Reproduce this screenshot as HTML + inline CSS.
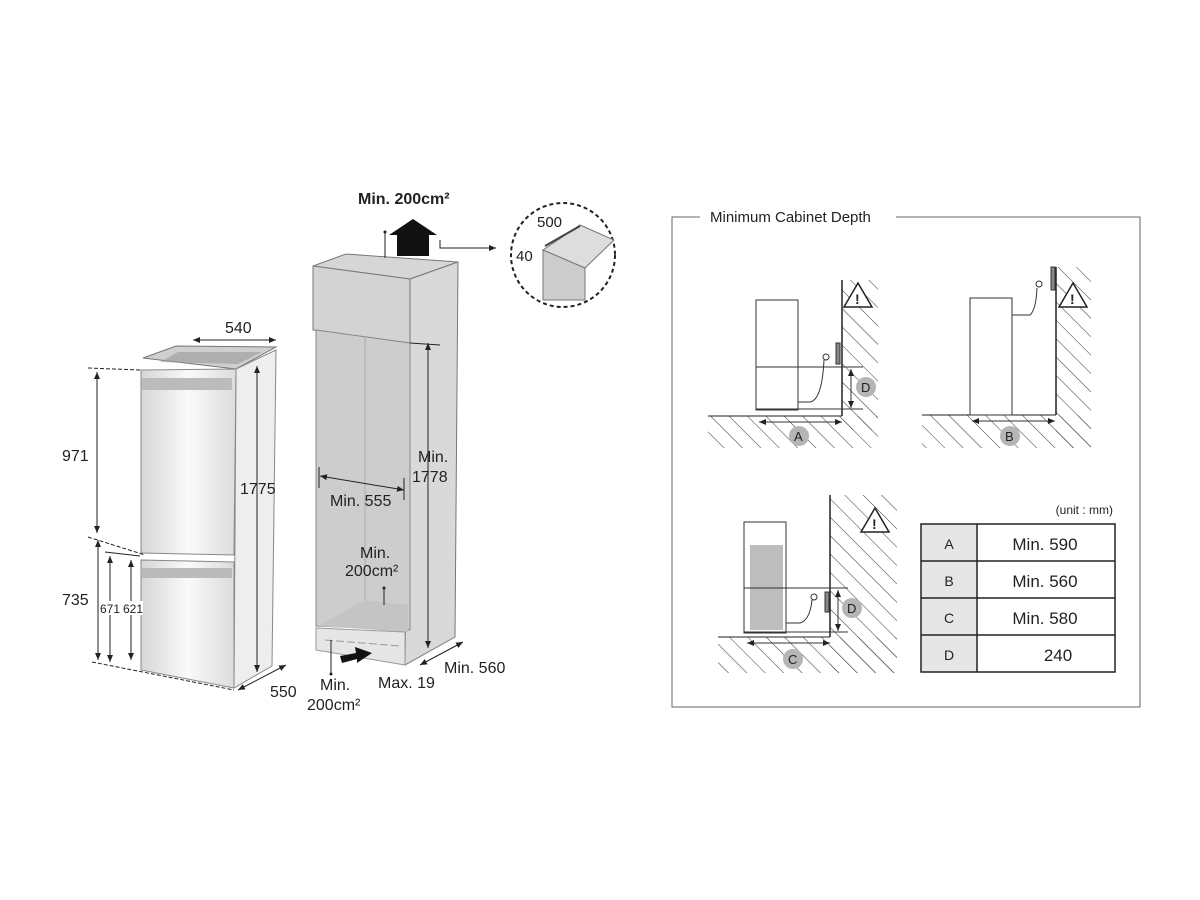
<!DOCTYPE html>
<html><head><meta charset="utf-8"><style>
html,body{margin:0;padding:0;background:#fff;}
svg{display:block;}
text{font-family:"Liberation Sans",sans-serif;fill:#222;}
</style></head><body>
<svg width="1200" height="900" viewBox="0 0 1200 900" xmlns="http://www.w3.org/2000/svg">
<defs>
<pattern id="h" width="13" height="13" patternUnits="userSpaceOnUse" patternTransform="rotate(-45)">
<line x1="0" y1="0" x2="0" y2="13" stroke="#444" stroke-width="1.1"/>
</pattern>
<linearGradient id="door" x1="0" x2="1">
<stop offset="0" stop-color="#d6d6d6"/><stop offset="0.5" stop-color="#fafafa"/><stop offset="1" stop-color="#dcdcdc"/>
</linearGradient>
<marker id="a" markerWidth="8" markerHeight="8" refX="7" refY="4" orient="auto-start-reverse"><path d="M0,1 L7,4 L0,7 z" fill="#222"/></marker>
</defs>

<!-- ===== Left fridge ===== -->
<polygon points="143,358 176,346 276,347 236,369" fill="#cfcfcf" stroke="#777"/>
<polygon points="178,352 262,352 238,364 160,362" fill="#999" opacity="0.6"/>
<polygon points="236,369 276,350 272,666 234,688" fill="#eeeeee" stroke="#888"/>
<polygon points="141,370 236,369 234,555 141,553" fill="url(#door)" stroke="#888"/>
<polygon points="141,560 234,562 234,688 141,670" fill="url(#door)" stroke="#888"/>
<rect x="142" y="378" width="90" height="12" fill="#bbb"/>
<rect x="142" y="568" width="90" height="10" fill="#bbb"/>
<!-- dims -->
<line x1="193" y1="340" x2="276" y2="340" stroke="#222" marker-start="url(#a)" marker-end="url(#a)"/>
<text x="225" y="333" font-size="16">540</text>
<line x1="88" y1="368" x2="140" y2="370" stroke="#222" stroke-dasharray="4,2"/>
<line x1="97" y1="372" x2="97" y2="533" stroke="#222" marker-start="url(#a)" marker-end="url(#a)"/>
<text x="62" y="461" font-size="16">971</text>
<line x1="88" y1="537" x2="145" y2="555" stroke="#222" stroke-dasharray="4,2"/>
<line x1="98" y1="540" x2="98" y2="660" stroke="#222" marker-start="url(#a)" marker-end="url(#a)"/>
<text x="62" y="605" font-size="16">735</text>
<line x1="105" y1="552" x2="140" y2="556" stroke="#222"/>
<line x1="110" y1="556" x2="110" y2="662" stroke="#222" marker-start="url(#a)" marker-end="url(#a)"/>
<line x1="131" y1="560" x2="131" y2="660" stroke="#222" marker-start="url(#a)" marker-end="url(#a)"/>
<rect x="99" y="601" width="44" height="14" fill="#fff"/>
<text x="100" y="613" font-size="12">671</text><text x="123" y="613" font-size="12">621</text>
<line x1="92" y1="662" x2="234" y2="690" stroke="#222" stroke-dasharray="4,2"/>
<line x1="257" y1="366" x2="257" y2="672" stroke="#222" marker-start="url(#a)" marker-end="url(#a)"/>
<text x="240" y="494" font-size="16">1775</text>
<line x1="238" y1="690" x2="286" y2="665" stroke="#222" marker-start="url(#a)" marker-end="url(#a)"/>
<text x="270" y="697" font-size="16">550</text>

<!-- ===== Cabinet ===== -->
<polygon points="313,266 346,254 458,262 410,279" fill="#d6d6d6" stroke="#777"/>
<polygon points="410,279 458,262 455,637 405,665" fill="#d9d9d9" stroke="#777"/>
<polygon points="313,266 410,279 410,343 313,330" fill="#d3d3d3" stroke="#777"/>
<polygon points="316,330 410,343 410,630 316,626" fill="#cdcdcd" stroke="#888"/>
<line x1="365" y1="336" x2="365" y2="600" stroke="#aaa"/>
<polygon points="318,626 365,600 408,605 408,632" fill="#c4c4c4"/>
<polygon points="316,628 405,632 405,665 316,650" fill="#e6e6e6" stroke="#999"/>
<line x1="325" y1="640" x2="400" y2="646" stroke="#999" stroke-dasharray="8,3"/>
<line x1="428" y1="343" x2="428" y2="648" stroke="#222" marker-start="url(#a)" marker-end="url(#a)"/>
<line x1="410" y1="343" x2="440" y2="345" stroke="#222"/>
<text x="418" y="462" font-size="16">Min.</text>
<text x="412" y="482" font-size="16">1778</text>
<line x1="320" y1="476" x2="404" y2="490" stroke="#222" marker-start="url(#a)" marker-end="url(#a)"/>
<line x1="319" y1="467" x2="319" y2="488" stroke="#222"/><line x1="404" y1="478" x2="404" y2="500" stroke="#222"/>
<text x="330" y="506" font-size="16">Min. 555</text>
<text x="360" y="558" font-size="16">Min.</text>
<text x="345" y="576" font-size="16">200cm²</text>
<line x1="384" y1="588" x2="384" y2="605" stroke="#222"/><circle cx="384" cy="588" r="1.5" fill="#222"/>
<!-- top vent -->
<text x="358" y="204" font-size="16" font-weight="bold">Min. 200cm²</text>
<line x1="385" y1="232" x2="385" y2="258" stroke="#222"/><circle cx="385" cy="232" r="1.5" fill="#222"/>
<polygon points="397,256 397,235 389,235 413,219 437,235 429,235 429,256" fill="#111"/>
<!-- bottom arrow -->
<polygon points="340,656 356,653 355,647 372,653 357,663 357,659 342,663" fill="#111"/>
<line x1="331" y1="640" x2="331" y2="674" stroke="#222"/><circle cx="331" cy="674" r="1.5" fill="#222"/>
<text x="320" y="690" font-size="16">Min.</text>
<text x="307" y="710" font-size="16">200cm²</text>
<text x="378" y="688" font-size="16">Max. 19</text>
<line x1="420" y1="665" x2="463" y2="642" stroke="#222" marker-start="url(#a)" marker-end="url(#a)"/>
<text x="444" y="673" font-size="16">Min. 560</text>
<!-- detail -->
<polyline points="440,240 440,248 496,248" fill="none" stroke="#222" marker-end="url(#a)"/>
<circle cx="563" cy="255" r="52" fill="none" stroke="#222" stroke-width="2" stroke-dasharray="4,3"/>
<polygon points="543,250 580,225 614,240 585,268" fill="#ddd" stroke="#777"/>
<polygon points="543,250 585,268 585,300 543,300" fill="#ccc" stroke="#777"/>
<line x1="545" y1="246" x2="580" y2="226" stroke="#444" stroke-width="2"/>
<text x="537" y="227" font-size="15">500</text>
<text x="516" y="261" font-size="15">40</text>

<!-- ===== Right panel ===== -->
<polyline points="700,217 672,217 672,707 1140,707 1140,217 896,217" fill="none" stroke="#666"/>
<text x="710" y="222" font-size="15">Minimum Cabinet Depth</text>

<!-- A -->
<rect x="842" y="280" width="36" height="150" fill="url(#h)"/>
<rect x="708" y="416" width="170" height="32" fill="url(#h)"/>
<line x1="708" y1="416" x2="842" y2="416" stroke="#222"/>
<line x1="842" y1="280" x2="842" y2="416" stroke="#222" stroke-width="1.5"/>
<rect x="756" y="300" width="42" height="110" fill="#fff" stroke="#333"/>
<line x1="756" y1="367" x2="863" y2="367" stroke="#333"/>
<line x1="756" y1="409" x2="863" y2="409" stroke="#333"/>
<path d="M798,402 L810,402 Q822,400 824,360" fill="none" stroke="#333"/>
<circle cx="826" cy="357" r="3" fill="none" stroke="#333"/>
<rect x="836" y="343" width="4" height="21" fill="#888" stroke="#333"/>
<line x1="851" y1="369" x2="851" y2="408" stroke="#333" marker-start="url(#a)" marker-end="url(#a)"/>
<line x1="759" y1="422" x2="842" y2="422" stroke="#333" marker-start="url(#a)" marker-end="url(#a)"/>
<circle cx="866" cy="387" r="10" fill="#b5b5b5"/><text x="861" y="392" font-size="13">D</text>
<circle cx="799" cy="436" r="10" fill="#b5b5b5"/><text x="794" y="441" font-size="13">A</text>
<polygon points="858,283 872,307 844,307" fill="#fff" stroke="#222" stroke-width="1.5"/><text x="855" y="304" font-size="14" font-weight="bold">!</text>

<!-- B -->
<rect x="1056" y="267" width="35" height="181" fill="url(#h)"/>
<rect x="922" y="415" width="169" height="33" fill="url(#h)"/>
<line x1="922" y1="415" x2="1056" y2="415" stroke="#222"/>
<line x1="1056" y1="267" x2="1056" y2="415" stroke="#222" stroke-width="1.5"/>
<rect x="970" y="298" width="42" height="117" fill="#fff" stroke="#333"/>
<path d="M1012,315 L1030,315 Q1036,310 1037,288" fill="none" stroke="#333"/>
<circle cx="1039" cy="284" r="3" fill="none" stroke="#333"/>
<rect x="1051" y="267" width="4" height="23" fill="#888" stroke="#333"/>
<line x1="972" y1="421" x2="1055" y2="421" stroke="#333" marker-start="url(#a)" marker-end="url(#a)"/>
<circle cx="1010" cy="436" r="10" fill="#b5b5b5"/><text x="1005" y="441" font-size="13">B</text>
<polygon points="1073,283 1087,307 1059,307" fill="#fff" stroke="#222" stroke-width="1.5"/><text x="1070" y="304" font-size="14" font-weight="bold">!</text>

<!-- C -->
<rect x="830" y="495" width="67" height="178" fill="url(#h)"/>
<rect x="718" y="637" width="179" height="36" fill="url(#h)"/>
<line x1="718" y1="637" x2="830" y2="637" stroke="#222"/>
<line x1="830" y1="495" x2="830" y2="637" stroke="#222" stroke-width="1.5"/>
<rect x="744" y="522" width="42" height="111" fill="#fff" stroke="#333"/>
<rect x="750" y="545" width="33" height="85" fill="#bdbdbd"/>
<line x1="744" y1="588" x2="848" y2="588" stroke="#333"/>
<line x1="744" y1="632" x2="848" y2="632" stroke="#333"/>
<path d="M786,623 L800,623 Q810,620 812,600" fill="none" stroke="#333"/>
<circle cx="814" cy="597" r="3" fill="none" stroke="#333"/>
<rect x="825" y="592" width="4" height="20" fill="#888" stroke="#333"/>
<line x1="838" y1="590" x2="838" y2="631" stroke="#333" marker-start="url(#a)" marker-end="url(#a)"/>
<line x1="747" y1="643" x2="830" y2="643" stroke="#333" marker-start="url(#a)" marker-end="url(#a)"/>
<circle cx="852" cy="608" r="10" fill="#b5b5b5"/><text x="847" y="613" font-size="13">D</text>
<circle cx="793" cy="659" r="10" fill="#b5b5b5"/><text x="788" y="664" font-size="13">C</text>
<polygon points="875,508 889,532 861,532" fill="#fff" stroke="#222" stroke-width="1.5"/><text x="872" y="529" font-size="14" font-weight="bold">!</text>

<!-- table -->
<text x="1113" y="514" font-size="12" text-anchor="end">(unit : mm)</text>
<rect x="921" y="524" width="56" height="148" fill="#e6e6e6"/>
<rect x="921" y="524" width="194" height="148" fill="none" stroke="#222" stroke-width="1.5"/>
<line x1="977" y1="524" x2="977" y2="672" stroke="#222" stroke-width="1.5"/>
<line x1="921" y1="561" x2="1115" y2="561" stroke="#222" stroke-width="1.5"/>
<line x1="921" y1="598" x2="1115" y2="598" stroke="#222" stroke-width="1.5"/>
<line x1="921" y1="635" x2="1115" y2="635" stroke="#222" stroke-width="1.5"/>
<g font-size="14" text-anchor="middle">
<text x="949" y="549">A</text><text x="949" y="586">B</text><text x="949" y="623">C</text><text x="949" y="660">D</text>
</g>
<g font-size="17" text-anchor="middle">
<text x="1045" y="550">Min. 590</text><text x="1045" y="587">Min. 560</text><text x="1045" y="624">Min. 580</text><text x="1058" y="661">240</text>
</g>
</svg>
</body></html>
